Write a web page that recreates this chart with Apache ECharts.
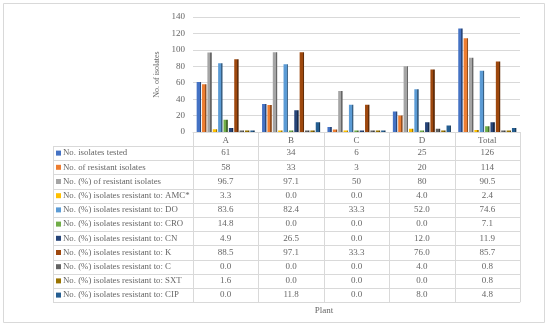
<!DOCTYPE html>
<html><head><meta charset="utf-8">
<script src="https://cdn.jsdelivr.net/npm/echarts@6/dist/echarts.min.js"></script>
<style>html,body{margin:0;padding:0;background:#fff}#c{width:550px;height:327px}</style>
</head><body><div id="c"></div>
<script>
const categories = ['A', 'B', 'C', 'D', 'Total'];
const seriesNames = [
  'No. isolates tested',
  'No. of resistant isolates',
  'No. (%) of resistant isolates',
  'No. (%) isolates resistant to: AMC*',
  'No. (%) isolates resistant to: DO',
  'No. (%) isolates resistant to: CRO',
  'No. (%) isolates resistant to: CN',
  'No. (%) isolates resistant to: K',
  'No. (%) isolates resistant to: C',
  'No. (%) isolates resistant to: SXT',
  'No. (%) isolates resistant to: CIP'
];
const tested       = [61, 34, 6, 25, 126];
const resistant    = [58, 33, 3, 20, 114];
const pctResistant = [96.7, 97.1, 50, 80, 90.5];
const amc = [3.3, 0.0, 0.0, 4.0, 2.4];
const dox = [83.6, 82.4, 33.3, 52.0, 74.6];
const cro = [14.8, 0.0, 0.0, 0.0, 7.1];
const cn  = [4.9, 26.5, 0.0, 12.0, 11.9];
const kan = [88.5, 97.1, 33.3, 76.0, 85.7];
const chl = [0.0, 0.0, 0.0, 4.0, 0.8];
const sxt = [1.6, 0.0, 0.0, 0.0, 0.8];
const cip = [0.0, 11.8, 0.0, 8.0, 4.8];
const yTicks = [0, 20, 40, 60, 80, 100, 120, 140];

const allSeries = [tested, resistant, pctResistant, amc, dox, cro, cn, kan, chl, sxt, cip];
const colors = ['#4472C4', '#ED7D31', '#A5A5A5', '#FFC000', '#5B9BD5', '#70AD47',
                '#264478', '#9E480E', '#636363', '#997300', '#255E91'];

function shade(hex, f) {
  const n = parseInt(hex.slice(1), 16);
  let r = (n >> 16) & 255, g = (n >> 8) & 255, b = n & 255;
  r = Math.round(r * f); g = Math.round(g * f); b = Math.round(b * f);
  return 'rgb(' + r + ',' + g + ',' + b + ')';
}
function fmt(rowIdx, v) {
  return rowIdx < 3 ? String(v) : v.toFixed(1);
}

const FONT = '"Liberation Serif", "DejaVu Serif", serif';
const TXT = '#666666';
const LINE = '#d9d9d9';

const chart = echarts.init(document.getElementById('c'), null, { renderer: 'canvas' });

const series = allSeries.map((data, i) => ({
  name: seriesNames[i],
  type: 'bar',
  data: data,
  barWidth: 4.4,
  barGap: '22%',
  barMinHeight: 1.5,
  itemStyle: {
    color: {
      type: 'linear', x: 0, y: 0, x2: 1, y2: 0,
      colorStops: [
        { offset: 0, color: colors[i] },
        { offset: 0.68, color: colors[i] },
        { offset: 0.68, color: shade(colors[i], 0.62) },
        { offset: 1, color: shade(colors[i], 0.62) }
      ]
    }
  },
  emphasis: { disabled: true },
  animation: false
}));

chart.setOption({
  animation: false,
  grid: { left: 193, right: 30, top: 17, bottom: 195, containLabel: false },
  xAxis: {
    type: 'category',
    data: categories,
    axisLine: { show: true, lineStyle: { color: LINE } },
    axisTick: { show: false },
    axisLabel: { show: false },
    splitLine: { show: false }
  },
  yAxis: {
    type: 'value',
    min: yTicks[0],
    max: yTicks[yTicks.length - 1],
    interval: yTicks[1] - yTicks[0],
    name: 'No. of isolates',
    nameLocation: 'middle',
    nameGap: 24,
    nameRotate: 90,
    nameTextStyle: { color: TXT, fontSize: 8, fontFamily: FONT },
    axisLine: { show: false },
    axisTick: { show: false },
    axisLabel: { color: TXT, fontSize: 9, fontFamily: FONT, margin: 8 },
    splitLine: { show: true, lineStyle: { color: LINE, width: 1 } }
  },
  series: series
});

// Build data table aligned with the category axis
const c0 = chart.convertToPixel({ xAxisIndex: 0 }, categories[0]);
const c1 = chart.convertToPixel({ xAxisIndex: 0 }, categories[1]);
const band = c1 - c0;
const colLeft = c0 - band / 2;
const axisY = chart.convertToPixel({ yAxisIndex: 0 }, 0);
const labelLeft = 53;
const rowTop = 146;
const rowH = 14.2;
const nRows = seriesNames.length;
const tableBottom = rowTop + nRows * rowH;
const colRight = colLeft + band * categories.length;

const g = [];
g.push({ type: 'rect', shape: { x: 3.5, y: 3.5, width: 541, height: 319 },
  style: { fill: 'none', stroke: LINE, lineWidth: 1 }, silent: true });

for (let k = 0; k <= categories.length; k++) {
  const x = Math.round(colLeft + k * band) + 0.5;
  g.push({ type: 'line', shape: { x1: x, y1: axisY, x2: x, y2: tableBottom },
    style: { stroke: LINE, lineWidth: 1 }, silent: true });
}
g.push({ type: 'line', shape: { x1: labelLeft + 0.5, y1: rowTop, x2: labelLeft + 0.5, y2: tableBottom },
  style: { stroke: LINE, lineWidth: 1 }, silent: true });
for (let r = 0; r <= nRows; r++) {
  const y = Math.round(rowTop + r * rowH) + 0.5;
  g.push({ type: 'line', shape: { x1: labelLeft, y1: y, x2: colRight, y2: y },
    style: { stroke: LINE, lineWidth: 1 }, silent: true });
}
categories.forEach((c, k) => {
  g.push({ type: 'text', x: colLeft + (k + 0.5) * band, y: (axisY + rowTop) / 2 + 2,
    style: { text: c, fill: TXT, font: '9px ' + FONT, align: 'center', verticalAlign: 'middle' }, silent: true });
});
seriesNames.forEach((name, r) => {
  const cy = rowTop + (r + 0.5) * rowH;
  g.push({ type: 'rect', shape: { x: 56, y: cy - 2.5, width: 5, height: 5 },
    style: { fill: colors[r] }, silent: true });
  g.push({ type: 'text', x: 63, y: cy,
    style: { text: name, fill: TXT, font: '8.8px ' + FONT, align: 'left', verticalAlign: 'middle' }, silent: true });
  allSeries[r].forEach((v, k) => {
    g.push({ type: 'text', x: colLeft + (k + 0.5) * band, y: cy,
      style: { text: fmt(r, v), fill: TXT, font: '9px ' + FONT, align: 'center', verticalAlign: 'middle' }, silent: true });
  });
});
g.push({ type: 'text', x: 324, y: 311,
  style: { text: 'Plant', fill: TXT, font: '9px ' + FONT, align: 'center', verticalAlign: 'middle' }, silent: true });

chart.setOption({ graphic: { elements: g } });
</script>
</body></html>
